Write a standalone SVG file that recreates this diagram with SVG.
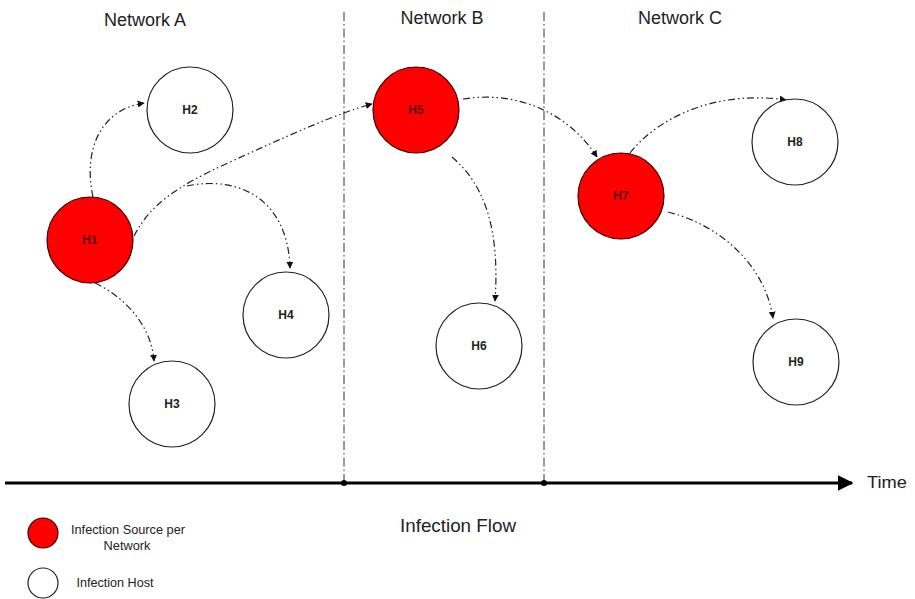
<svg xmlns="http://www.w3.org/2000/svg" width="915" height="599" viewBox="0 0 915 599">
<style>
.src{fill:#ff0000;stroke:#3a0000;stroke-width:1.2}
.host{fill:#ffffff;stroke:#222;stroke-width:1.2}
.lbl{font-family:"Liberation Sans",Arial,sans-serif;font-size:12px;font-weight:bold;text-anchor:middle;dominant-baseline:central}
.srclbl{fill:#5a0000}
.hostlbl{fill:#222}
.net{font-family:"Liberation Sans",Arial,sans-serif;font-size:18px;fill:#222;text-anchor:middle}
.flow{fill:none;stroke:#222;stroke-width:1.2;stroke-dasharray:7 3 1.5 3 1.5 3}
.sep{fill:none;stroke:#333;stroke-width:1;stroke-dasharray:9 3 1.5 3}
.leg{font-family:"Liberation Sans Narrow","Liberation Sans",Arial,sans-serif;font-size:13px;fill:#222;text-anchor:middle}
</style>
<defs>
<marker id="ah" viewBox="0 0 10 10" refX="9" refY="5" markerWidth="7" markerHeight="7" markerUnits="userSpaceOnUse" orient="auto">
<path d="M0,0 L10,5 L0,10 z" fill="#111"/>
</marker>
<marker id="big" viewBox="0 0 10 10" refX="9" refY="5" markerWidth="16" markerHeight="16" markerUnits="userSpaceOnUse" orient="auto">
<path d="M0,0 L10,5 L0,10 z" fill="#000"/>
</marker>
</defs>
<rect width="915" height="599" fill="#ffffff"/>
<g id="titles">
<text class="net" x="145" y="26">Network A</text>
<text class="net" x="442" y="24">Network B</text>
<text class="net" x="680" y="24">Network C</text>
</g>
<g id="separators">
<line class="sep" x1="344" y1="12" x2="344" y2="483"/>
<line class="sep" x1="544" y1="12" x2="544" y2="483"/>
</g>
<g id="timeline">
<line x1="5" y1="483" x2="852" y2="483" stroke="#000" stroke-width="3" marker-end="url(#big)"/>
<circle cx="344" cy="483" r="3" fill="#000"/>
<circle cx="544" cy="483" r="3" fill="#000"/>
<text x="867" y="488" font-family="Liberation Sans, Arial, sans-serif" font-size="17" fill="#222" textLength="40" lengthAdjust="spacingAndGlyphs">Time</text>
<text x="458" y="532" font-family="Liberation Sans Narrow, Liberation Sans, Arial, sans-serif" font-size="19" fill="#222" text-anchor="middle" textLength="116" lengthAdjust="spacingAndGlyphs">Infection Flow</text>
</g>
<g id="connectors">
<path class="flow" d="M93,197 C83,150 100,110 144,103" marker-end="url(#ah)"/>
<path class="flow" d="M134,236 C150,205 175,187 230,162 S340,112 372,104" marker-end="url(#ah)"/>
<path class="flow" d="M187,186 C240,175 288,200 290,268" marker-end="url(#ah)"/>
<path class="flow" d="M95,283 C130,300 152,330 154,361" marker-end="url(#ah)"/>
<path class="flow" d="M463,99 C520,90 570,115 597,157" marker-end="url(#ah)"/>
<path class="flow" d="M452,157 C485,185 500,230 495,301" marker-end="url(#ah)"/>
<path class="flow" d="M630,153 C660,115 720,90 786,100" marker-end="url(#ah)"/>
<path class="flow" d="M668,212 C720,225 765,265 773,318" marker-end="url(#ah)"/>
</g>
<g id="H1"><circle class="src" cx="90" cy="240" r="43"/><text class="lbl srclbl" x="90" y="240">H1</text></g>
<g id="H2"><circle class="host" cx="190" cy="110" r="43"/><text class="lbl hostlbl" x="190" y="110">H2</text></g>
<g id="H3"><circle class="host" cx="172" cy="404" r="43"/><text class="lbl hostlbl" x="172" y="404">H3</text></g>
<g id="H4"><circle class="host" cx="286" cy="315" r="43"/><text class="lbl hostlbl" x="286" y="315">H4</text></g>
<g id="H5"><circle class="src" cx="416" cy="110" r="43"/><text class="lbl srclbl" x="416" y="110">H5</text></g>
<g id="H6"><circle class="host" cx="479" cy="346" r="43"/><text class="lbl hostlbl" x="479" y="346">H6</text></g>
<g id="H7"><circle class="src" cx="621" cy="196" r="43"/><text class="lbl srclbl" x="621" y="196">H7</text></g>
<g id="H8"><circle class="host" cx="795" cy="142" r="43"/><text class="lbl hostlbl" x="795" y="142">H8</text></g>
<g id="H9"><circle class="host" cx="796" cy="362" r="43"/><text class="lbl hostlbl" x="796" y="362">H9</text></g>
<g id="legend">
<circle class="src" cx="43" cy="533" r="15"/>
<text class="leg" x="128" y="534" textLength="114" lengthAdjust="spacingAndGlyphs">Infection Source per</text>
<text class="leg" x="127" y="550" textLength="47" lengthAdjust="spacingAndGlyphs">Network</text>
<circle class="host" cx="43" cy="583" r="15"/>
<text class="leg" x="115" y="587" textLength="77" lengthAdjust="spacingAndGlyphs">Infection Host</text>
</g>
</svg>
